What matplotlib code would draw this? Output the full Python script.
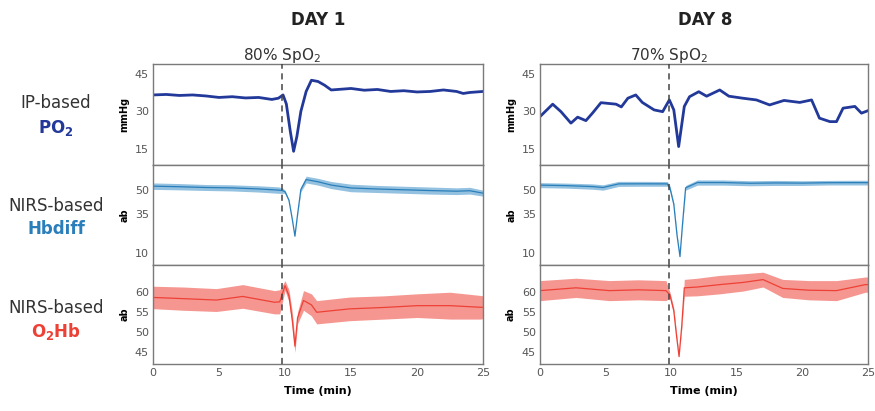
import matplotlib.pyplot as plt
import numpy as np

# time (min) and values
d1_po2_t = [0, 1, 2, 3, 4, 5, 6, 7, 8, 9, 9.5, 9.85, 10.1, 10.4, 10.65, 10.9,
            11.2, 11.6, 12.0, 12.5, 13.0, 13.5, 14, 15, 16, 17, 18, 19, 20,
            21, 22, 23, 23.5, 24, 25]
d1_po2 = [36.6, 36.8, 36.4, 36.6, 36.2, 35.6, 35.9, 35.4, 35.6, 34.8, 35.3,
          36.6, 33, 22, 14, 20, 30, 38, 42.5, 42, 40.5, 38.6, 38.8, 39.2,
          38.5, 38.8, 38, 38.3, 37.8, 38, 38.6, 38, 37.2, 37.6, 38]

d8_po2_t = [0, 0.97, 1.6, 2.36, 2.87, 3.5, 4.0, 4.65, 5.8, 6.2, 6.7, 7.3,
            7.8, 8.7, 9.35, 9.86, 10.2, 10.57, 11.0, 11.4, 12.1, 12.7, 13.7,
            14.4, 15.45, 16.5, 17.5, 18.6, 19.8, 20.7, 21.3, 22.1, 22.6,
            23.1, 24.0, 24.5, 25]
d8_po2 = [27.9, 32.9, 29.9, 25.3, 27.7, 26.3, 29.3, 33.5, 32.9, 31.8, 35.3,
          36.6, 33.6, 30.6, 29.9, 34.6, 30.6, 15.9, 32, 35.9, 37.9, 36.1,
          38.6, 36.1, 35.3, 34.6, 32.6, 34.4, 33.6, 34.6, 27.3, 25.9, 25.9,
          31.3, 32, 29.3, 30.3]

d1_hb_t = [0, 2, 4, 6, 8, 9.5, 9.8, 10.0, 10.3, 10.55, 10.75, 10.95, 11.2,
           11.6, 12.5, 13.5, 15, 17, 19, 21, 23, 24, 25]
d1_hb_hi = [54.6, 54.2, 53.6, 53.4, 52.8, 52.1, 51.5, 50, 44, 32, 21, 35, 52,
            58.9, 57.5, 55.5, 53.8, 53, 52.5, 52, 51.5, 51.8, 50]
d1_hb_lo = [50.5, 50.2, 49.8, 49.5, 48.8, 48.0, 48.0, 48, 43, 31, 20.5, 34,
            49, 54.6, 53.2, 51, 49.0, 48.5, 48, 47.5, 47.2, 47.5, 46.2]

d8_hb_t = [0, 2, 4, 4.8, 6, 8, 9.7, 9.9, 10.2, 10.45, 10.67, 10.85, 11.1, 12,
           14, 16, 18, 20, 22, 24, 25]
d8_hb_hi = [54.8, 54.5, 54, 53.4, 55.6, 55.6, 55.5, 53, 42, 22, 8, 28, 53,
            56.5, 56.5, 56, 56.2, 56, 56.2, 56.3, 56.3]
d8_hb_lo = [51.6, 51.3, 50.6, 50, 52.4, 52.5, 52.5, 50, 40, 20, 7.5, 26, 50,
            53.2, 53.2, 52.8, 53, 53, 53.3, 53.3, 53.3]

d1_o2_t = [0, 2.3, 4.8, 6.8, 9.2, 9.6, 10.0, 10.3, 10.55, 10.75, 10.95, 11.4,
           12.0, 12.4, 14.9, 17.5, 20, 22.5, 24.8, 25]
d1_o2_hi = [61.4, 61.2, 60.8, 61.8, 60.3, 60.5, 62.8, 60.5, 55, 48, 55, 60.3,
            59.5, 57.8, 58.7, 59, 59.5, 59.9, 59.1, 59]
d1_o2_lo = [55.8, 55.4, 55.1, 55.9, 54.5, 54.5, 60.3, 57.5, 51, 44.9, 52,
            55.4, 54, 52, 52.8, 53.2, 53.6, 53.2, 53.2, 53.3]

d8_o2_t = [0, 2.75, 5.3, 7.5, 9.6, 9.9, 10.2, 10.4, 10.6, 10.8, 11.0, 12,
           13.7, 15.5, 17, 18.5, 20.5, 22.6, 24.8, 25]
d8_o2_hi = [62.8, 63.4, 62.8, 63, 62.8, 60, 56, 50, 44, 52, 63.1, 63.4, 64.1,
            64.5, 64.9, 63.1, 62.8, 62.8, 63.7, 63.7]
d8_o2_lo = [57.8, 58.6, 57.8, 58, 57.8, 58.5, 54.5, 48.5, 43.7, 50.5, 58.9,
            59, 59.5, 60.2, 61.2, 58.6, 58, 57.8, 59.9, 59.9]

event_t = 9.8
xticks = [0, 5, 10, 15, 20, 25]

blue = "#22399a"
lblue = "#3a8ec6"
red = "#ee4136"
frame = "#7a7a7a"
tick_c = "#555555"

fig = plt.figure(figsize=(8.75, 4.11), dpi=100)

cols = [(0.1749, 0.3771), (0.6171, 0.3749)]
rows = [(0.5985, 0.2457), (0.3552, 0.2433), (0.1144, 0.2409)]

ylims = [(8.5, 49), (2.4, 66), (42, 66.7)]
yticks = [[15, 30, 45], [10, 35, 50], [45, 50, 55, 60]]
ylabels = ["mmHg", "ab", "ab"]

axes = [[None] * 3 for _ in range(2)]
for c, (l, w) in enumerate(cols):
    for r, (b, h) in enumerate(rows):
        ax = fig.add_axes([l, b, w, h])
        ax.set_xlim(0, 25)
        ax.set_ylim(*ylims[r])
        ax.set_yticks(yticks[r])
        ax.set_xticks(xticks)
        ax.tick_params(length=0, pad=3, labelsize=8, colors=tick_c)
        if r < 2:
            ax.set_xticklabels([])
        for s in ax.spines.values():
            s.set_color(frame)
            s.set_linewidth(1.0)
        ax.set_ylabel(ylabels[r], fontsize=7, fontweight="bold", labelpad=4)
        ax.axvline(event_t, color="#444444", ls=(0, (4, 3)), lw=1.1, zorder=5)
        axes[c][r] = ax

# PO2
axes[0][0].plot(d1_po2_t, d1_po2, color=blue, lw=2)
axes[1][0].plot(d8_po2_t, d8_po2, color=blue, lw=2)

# Hbdiff
for ax, t, hi, lo in [(axes[0][1], d1_hb_t, d1_hb_hi, d1_hb_lo),
                      (axes[1][1], d8_hb_t, d8_hb_hi, d8_hb_lo)]:
    hi = np.array(hi)
    lo = np.array(lo)
    ax.fill_between(t, lo, hi, color=lblue, alpha=0.55, lw=0)
    ax.plot(t, (hi + lo) / 2, color="#2a7fbb", lw=0.9)

# O2Hb
for ax, t, hi, lo in [(axes[0][2], d1_o2_t, d1_o2_hi, d1_o2_lo),
                      (axes[1][2], d8_o2_t, d8_o2_hi, d8_o2_lo)]:
    hi = np.array(hi)
    lo = np.array(lo)
    ax.fill_between(t, lo, hi, color=red, alpha=0.55, lw=0)
    ax.plot(t, (hi + lo) / 2, color=red, lw=0.9)

for c in range(2):
    axes[c][2].set_xlabel("Time (min)", fontsize=8, fontweight="bold",
                          labelpad=6)

fig.text(0.3634, 0.951, "DAY 1", ha="center", va="center", fontsize=12,
         fontweight="bold", color="#222222")
fig.text(0.806, 0.951, "DAY 8", ha="center", va="center", fontsize=12,
         fontweight="bold", color="#222222")
axes[0][0].text(event_t, 1.08, "80% SpO$_2$", transform=axes[0][0].get_xaxis_transform(),
                ha="center", va="center", fontsize=11, color="#333333")
axes[1][0].text(event_t, 1.08, "70% SpO$_2$", transform=axes[1][0].get_xaxis_transform(),
                ha="center", va="center", fontsize=11, color="#333333")

row_txt = [("IP-based", "PO$_\\mathbf{2}$", blue, 103, 128),
           ("NIRS-based", "Hbdiff", "#2a7fbb", 206, 229),
           ("NIRS-based", "O$_\\mathbf{2}$Hb", red, 308, 331)]
for top, name, clr, y1, y2 in row_txt:
    fig.text(56 / 875, 1 - y1 / 411, top, ha="center", va="center",
             fontsize=12, color="#333333")
    fig.text(56 / 875, 1 - y2 / 411, name, ha="center", va="center",
             fontsize=12, fontweight="bold", color=clr)

fig.savefig("out.png", dpi=100)
